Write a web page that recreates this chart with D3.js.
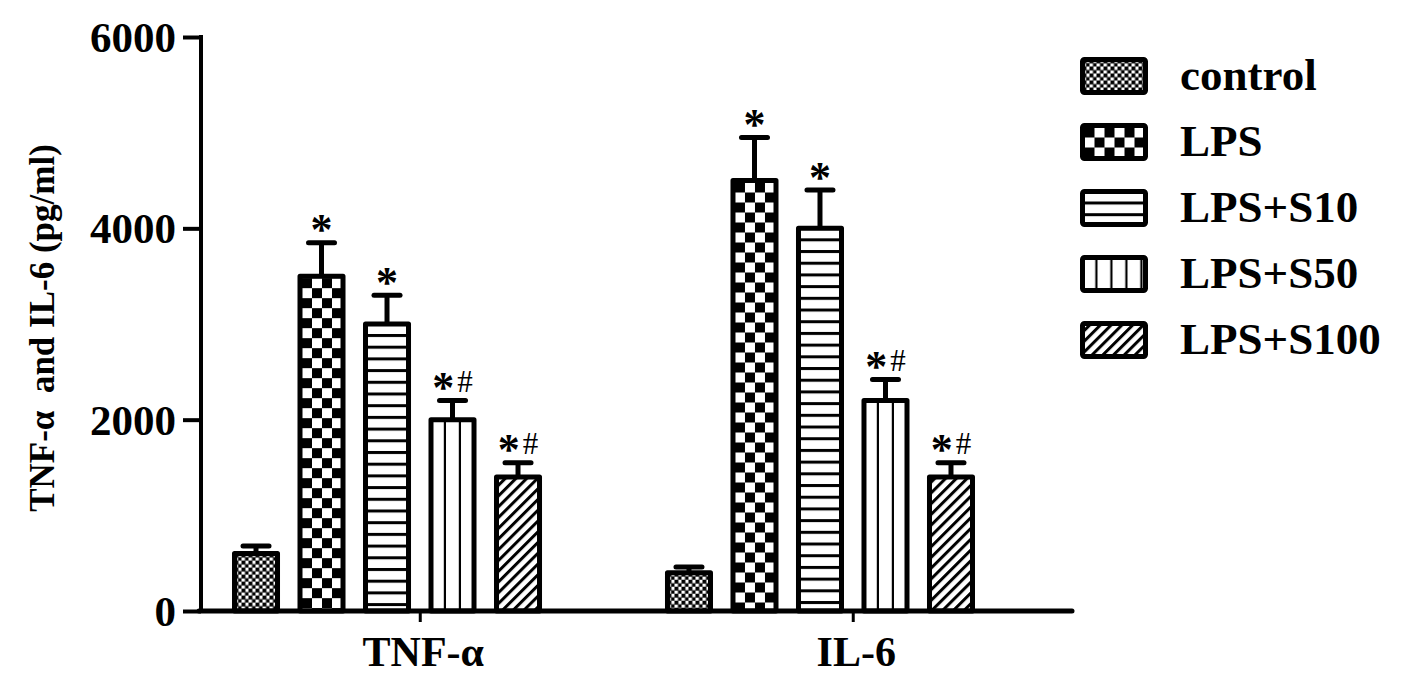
<!DOCTYPE html>
<html>
<head>
<meta charset="utf-8">
<script src="https://cdn.jsdelivr.net/npm/d3@7"></script>
<style>
  html, body { margin: 0; padding: 0; background: #fff; }
  svg { display: block; }
  text { font-family: "Liberation Serif", "Times New Roman", serif; fill: #000; }
</style>
</head>
<body>
<svg id="chart" width="1417" height="687"></svg>
<script>
// ---------- data ----------
const categories = ["TNF-α", "IL-6"];
const series = ["control", "LPS", "LPS+S10", "LPS+S50", "LPS+S100"];
const tnfMeans  = [600, 3500, 3000, 2000, 1400];
const tnfErrors = [80, 350, 300, 200, 150];
const il6Means  = [400, 4500, 4000, 2200, 1400];
const il6Errors = [60, 450, 400, 220, 150];
const tnfMarks  = ["", "*", "*", "*#", "*#"];
const il6Marks  = ["", "*", "*", "*#", "*#"];
const yTicks = [0, 2000, 4000, 6000];
const yTitle = "TNF-α  and IL-6 (pg/ml)";

const meansByCat  = [tnfMeans, il6Means];
const errorsByCat = [tnfErrors, il6Errors];
const marksByCat  = [tnfMarks, il6Marks];

const table = [];
categories.forEach((c, i) => {
  series.forEach((s, j) => {
    table.push({cat: c, ser: s, ci: i, sj: j,
      mean: meansByCat[i][j], err: errorsByCat[i][j], mark: marksByCat[i][j]});
  });
});

// ---------- layout ----------
const svg = d3.select("#chart");
const SW = 5; // bar outline width
const axisX = 201, axisY = 611, axisTop = 37, axisRight = 1072;

const y = d3.scaleLinear().domain([0, 6000]).range([axisY, axisTop]);
const x0 = d3.scaleBand().domain(categories).range([232, 975]).paddingInner(0.284).paddingOuter(0);
const x1 = d3.scaleBand().domain(series).range([0, x0.bandwidth()]).paddingInner(0.267).paddingOuter(0);

const defs = svg.append("defs");

function buildPattern(id, type, ox, oy) {
  let p;
  if (type === "control") {
    p = defs.append("pattern").attr("id", id).attr("patternUnits", "userSpaceOnUse")
      .attr("x", ox).attr("y", oy).attr("width", 7).attr("height", 7);
    p.append("rect").attr("width", 7).attr("height", 7).attr("fill", "#fff");
    p.append("rect").attr("x", 0).attr("y", 0).attr("width", 3.9).attr("height", 3.9).attr("fill", "#000");
    p.append("rect").attr("x", 3.5).attr("y", 3.5).attr("width", 3.9).attr("height", 3.9).attr("fill", "#000");
  } else if (type === "LPS") {
    p = defs.append("pattern").attr("id", id).attr("patternUnits", "userSpaceOnUse")
      .attr("x", ox + 2).attr("y", oy + 2).attr("width", 20).attr("height", 20);
    p.append("rect").attr("width", 20).attr("height", 20).attr("fill", "#fff");
    p.append("rect").attr("x", 0).attr("y", 0).attr("width", 10).attr("height", 10).attr("fill", "#000");
    p.append("rect").attr("x", 10).attr("y", 10).attr("width", 10).attr("height", 10).attr("fill", "#000");
  } else if (type === "LPS+S10") {
    p = defs.append("pattern").attr("id", id).attr("patternUnits", "userSpaceOnUse")
      .attr("x", ox).attr("y", oy + 10).attr("width", 10).attr("height", 11.7);
    p.append("rect").attr("width", 10).attr("height", 11.7).attr("fill", "#fff");
    p.append("rect").attr("x", 0).attr("y", 0).attr("width", 10).attr("height", 3).attr("fill", "#000");
  } else if (type === "LPS+S50") {
    p = defs.append("pattern").attr("id", id).attr("patternUnits", "userSpaceOnUse")
      .attr("x", ox).attr("y", oy).attr("width", 15).attr("height", 10);
    p.append("rect").attr("width", 15).attr("height", 10).attr("fill", "#fff");
    p.append("rect").attr("x", 12.8).attr("y", 0).attr("width", 3.6).attr("height", 10).attr("fill", "#000");
  } else {
    p = defs.append("pattern").attr("id", id).attr("patternUnits", "userSpaceOnUse")
      .attr("x", ox).attr("y", oy).attr("width", 7.6).attr("height", 10)
      .attr("patternTransform", "rotate(45)");
    p.append("rect").attr("width", 7.6).attr("height", 10).attr("fill", "#fff");
    p.append("rect").attr("x", 0).attr("y", 0).attr("width", 3).attr("height", 10).attr("fill", "#000");
  }
}

// bar geometry
table.forEach(d => {
  d.bx = x0(d.cat) + x1(d.ser) + SW / 2;
  d.bw = x1.bandwidth() - SW;
  d.cx = x0(d.cat) + x1(d.ser) + x1.bandwidth() / 2;
  d.pid = "pat-" + d.ci + "-" + d.sj;
  buildPattern(d.pid, d.ser, d.bx, y(d.mean));
});

// ---------- error bars ----------
const eb = svg.append("g");
eb.selectAll("line.v").data(table).join("line").attr("class", "v")
  .attr("x1", d => d.cx).attr("x2", d => d.cx)
  .attr("y1", d => y(d.mean)).attr("y2", d => y(d.mean + d.err))
  .attr("stroke", "#000").attr("stroke-width", 5);
eb.selectAll("line.c").data(table).join("line").attr("class", "c")
  .attr("x1", d => d.cx - 13).attr("x2", d => d.cx + 13)
  .attr("y1", d => y(d.mean + d.err)).attr("y2", d => y(d.mean + d.err))
  .attr("stroke", "#000").attr("stroke-width", 5).attr("stroke-linecap", "round");

// ---------- bars ----------
svg.append("g").selectAll("rect").data(table).join("rect")
  .attr("x", d => d.bx).attr("width", d => d.bw)
  .attr("y", d => y(d.mean)).attr("height", d => axisY - y(d.mean))
  .attr("fill", d => "url(#" + d.pid + ")")
  .attr("stroke", "#000").attr("stroke-width", SW).attr("stroke-linejoin", "round");

// ---------- significance marks ----------
const mk = svg.append("g");
table.filter(d => d.mark).forEach(d => {
  const capTop = y(d.mean + d.err) - 2.5;
  const t = mk.append("text").attr("x", d.cx).attr("y", capTop + 4)
    .attr("text-anchor", "middle");
  t.append("tspan").text("*").style("font-size", "44px").style("font-weight", "bold");
  if (d.mark.includes("#")) {
    t.append("tspan").text("#").attr("dx", 3).attr("dy", -10)
      .style("font-size", "31px").style("font-weight", "normal");
  }
});

// ---------- y axis ----------
const yAxis = svg.append("g").attr("transform", `translate(${axisX},0)`)
  .call(d3.axisLeft(y).tickValues(yTicks).tickSize(18).tickSizeOuter(0).tickPadding(7).tickFormat(d3.format("d")));
yAxis.select(".domain").attr("stroke-width", 4).attr("d", `M0,${axisTop - 2}V${axisY}`);
yAxis.selectAll(".tick line").attr("stroke-width", 4);
yAxis.selectAll(".tick text").style("font-size", "43px").style("font-weight", "bold")
  .style("font-family", "'Liberation Serif', serif").attr("dy", "0.34em");

// ---------- x axis ----------
const tickOffset = (x1("LPS+S10") + x1.bandwidth() + x1("LPS+S50")) / 2;
const xTick = d3.scaleOrdinal().domain(categories).range(categories.map(c => x0(c) + tickOffset));
const xAxis = svg.append("g").attr("transform", `translate(0,${axisY})`)
  .call(d3.axisBottom(xTick).tickSize(11).tickPadding(14));
xAxis.select(".domain").remove();
xAxis.selectAll(".tick line").attr("stroke-width", 3);
xAxis.selectAll(".tick text").style("font-size", "42px").style("font-weight", "bold")
  .style("font-family", "'Liberation Serif', serif").attr("dy", "0.72em").attr("dx", 3);
svg.append("line").attr("x1", axisX - 2).attr("x2", axisRight)
  .attr("y1", axisY).attr("y2", axisY)
  .attr("stroke", "#000").attr("stroke-width", 5).attr("stroke-linecap", "round");

// ---------- y title ----------
svg.append("text").attr("transform", "translate(54,328) rotate(-90)")
  .attr("text-anchor", "middle").style("font-size", "35px").style("font-weight", "bold")
  .style("white-space", "pre").text(yTitle);

// ---------- legend ----------
const leg = svg.append("g");
const legY = d3.scalePoint().domain(series).range([76, 340]);
series.forEach(s => {
  const top = legY(s) - 19 + SW / 2;
  const left = 1080 + SW / 2;
  const pid = "leg-" + series.indexOf(s);
  buildPattern(pid, s, left, top);
  leg.append("rect").attr("x", left).attr("y", top).attr("width", 68 - SW).attr("height", 38 - SW)
    .attr("rx", 2).attr("fill", "url(#" + pid + ")").attr("stroke", "#000").attr("stroke-width", SW);
  leg.append("text").attr("x", 1180).attr("y", legY(s) + 14)
    .style("font-size", "45px").style("font-weight", "bold").text(s);
});
</script>
</body>
</html>
